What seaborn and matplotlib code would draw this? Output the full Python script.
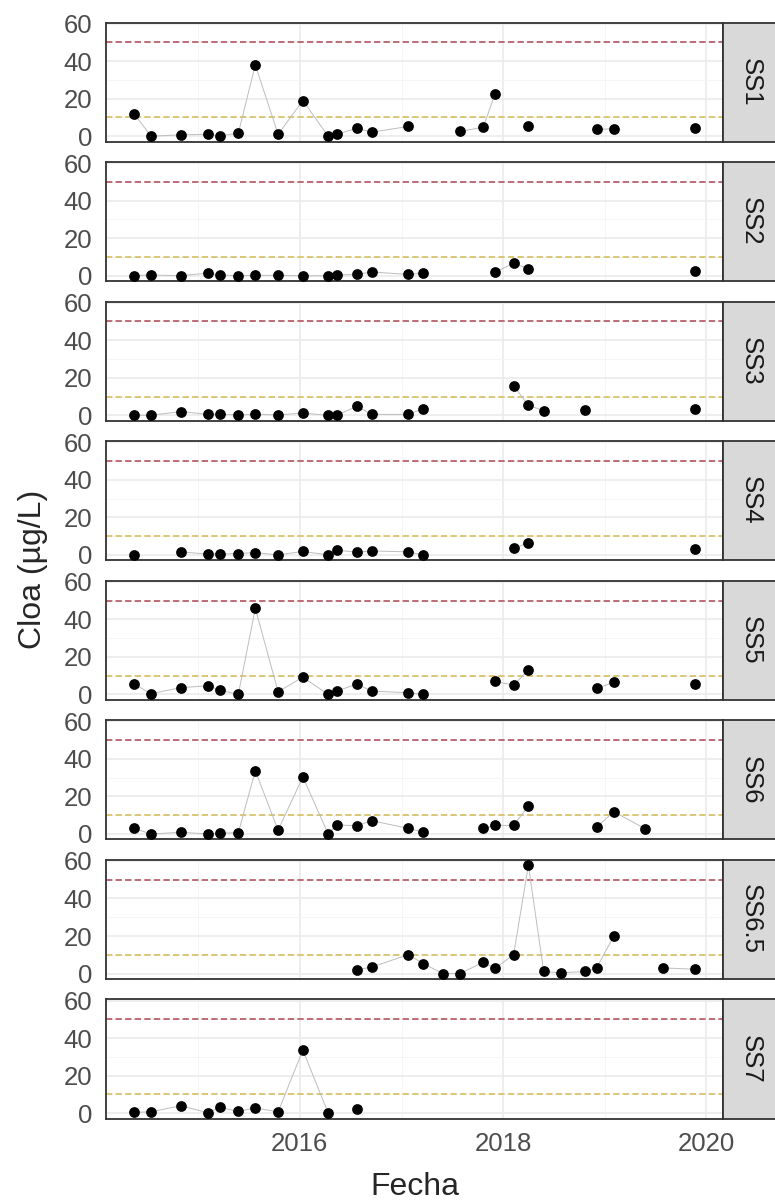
import pandas as pd
import numpy as np
import seaborn as sns
import matplotlib.pyplot as plt
import matplotlib.dates as mdates
from matplotlib.patches import Rectangle
from matplotlib.ticker import MultipleLocator

# fechas de muestreo (campañas)
fechas = [
    "2014-05-15", "2014-07-15", "2014-10-30", "2015-02-05", "2015-03-20",
    "2015-05-25", "2015-07-25", "2015-10-15", "2016-01-12", "2016-04-12",
    "2016-05-12", "2016-07-25", "2016-09-15", "2017-01-25", "2017-03-20",
    "2017-05-30", "2017-07-30", "2017-10-22", "2017-12-03", "2018-02-08",
    "2018-04-02", "2018-05-27", "2018-07-27", "2018-10-22", "2018-12-03",
    "2019-02-03", "2019-05-27", "2019-07-31", "2019-11-22",
]

sitios = ["SS1", "SS2", "SS3", "SS4", "SS5", "SS6", "SS6.5", "SS7"]

N = None
# clorofila a (ug/L) por sitio, alineada con 'fechas' (None = sin muestreo)
ss1 = [12, 0, 0.7, 1, 0.2, 1.6, 38, 1, 19, 0, 1, 4.3, 2.1, 5.2, N,
       N, 2.5, 4.8, 22.6, N, 5.3, N, N, N, 3.7, 3.9, N, N, 4.3]
ss2 = [0, 0.4, 0, 1.4, 0.4, 0, 0.2, 0.2, 0, 0, 0.4, 0.7, 2, 0.7, 1.4,
       N, N, N, 2, 6.6, 3.8, N, N, N, N, N, N, N, 2.3]
ss3 = [0, 0, 2, 0.5, 0.5, 0.2, 0.5, 0.2, 1.2, 0, 0, 4.8, 0.5, 0.5, 3.5,
       N, N, N, N, 15.8, 5.3, 2.5, N, 2.8, N, N, N, N, 3.5]
ss4 = [0, N, 1.6, 0.4, 0.4, 0.7, 1.2, 0, 1.8, 0, 2.5, 1.4, 2.1, 1.6, 0,
       N, N, N, N, 3.5, 6.4, N, N, N, N, N, N, N, 3]
ss5 = [5.5, 0.4, 3.6, 4.6, 2.3, 0, 45.9, 1.4, 9.2, 0, 1.8, 5.5, 1.8, 0.9, 0,
       N, N, N, 6.9, 5, 13, N, N, N, 3.2, 6.4, N, N, 5.5]
ss6 = [3, 0, 0.9, 0, 0.4, 0.7, 33.7, 2.1, 30.4, 0, 4.8, 4.4, 7.1, 3, 1,
       N, N, 3, 4.6, 4.6, 14.9, N, N, N, 3.5, 11.9, 2.8, N, N]
ss6_5 = [N, N, N, N, N, N, N, N, N, N, N, 2.1, 3.4, 10.1, 5.3,
         0, 0, 6, 2.7, 10.1, 57.7, 1.1, 0.4, 1.1, 3, 19.8, N, 3, 2.3]
ss7 = [0.4, 0.7, 3.9, 0.2, 3, 0.9, 2.7, 0.7, 33.6, 0, N, 2.3, N, N, N,
       N, N, N, N, N, N, N, N, N, N, N, N, N, N]

umbral_alto = 50
umbral_bajo = 10


def graficar():
    valores = [ss1, ss2, ss3, ss4, ss5, ss6, ss6_5, ss7]
    filas = []
    for sitio, serie in zip(sitios, valores):
        for f, v in zip(fechas, serie):
            filas.append({"sitio": sitio, "fecha": pd.Timestamp(f),
                          "cloa": np.nan if v is None else v})
    df = pd.DataFrame(filas)

    sns.set_theme(style="white")
    plt.rcParams["font.family"] = ["Liberation Sans", "DejaVu Sans"]

    g = sns.FacetGrid(df, row="sitio", row_order=sitios, height=1.5, aspect=5,
                      sharex=True, sharey=True, despine=False)
    # linea que se corta donde no hubo muestreo (como geom_line con NA)
    g.map(plt.plot, "fecha", "cloa", color="#BDBDBD", linewidth=0.7, zorder=3)
    g.map_dataframe(sns.scatterplot, x="fecha", y="cloa", color="black",
                    s=60, linewidth=0, zorder=4)

    fig = g.figure
    fig.set_size_inches(7.75, 12.04)
    fig.subplots_adjust(left=0.1368, right=0.9329, top=0.9813,
                        bottom=0.0710, hspace=0.172)

    # limites con expansion del 5% (como ggplot)
    xnum = mdates.date2num(df["fecha"])
    xr = xnum.max() - xnum.min()
    xlim = (xnum.min() - 0.05 * xr, xnum.max() + 0.05 * xr)
    ymin, ymax = np.nanmin(df["cloa"]), np.nanmax(df["cloa"])
    yr = ymax - ymin
    ylim = (ymin - 0.05 * yr, ymax + 0.05 * yr)

    for ax, sitio in zip(g.axes.flat, sitios):
        ax.set_title("")
        ax.set_xlabel("")
        ax.set_ylabel("")
        ax.set_facecolor("white")
        ax.set_xlim(xlim)
        ax.set_ylim(ylim)
        ax.set_yticks([0, 20, 40, 60])
        ax.yaxis.set_minor_locator(MultipleLocator(10))
        ax.xaxis.set_major_locator(mdates.YearLocator(2))
        ax.xaxis.set_minor_locator(mdates.YearLocator(1))
        ax.xaxis.set_major_formatter(mdates.DateFormatter("%Y"))
        ax.grid(True, which="major", color="#EBEBEB", linewidth=1.2, zorder=0)
        ax.grid(True, which="minor", color="#F4F4F4", linewidth=0.6, zorder=0)
        ax.set_axisbelow(True)
        ax.tick_params(axis="both", which="major", length=6, width=1.1,
                       color="#333333", labelcolor="#4D4D4D",
                       labelsize=18.5, pad=4)
        ax.tick_params(axis="both", which="minor", length=0)
        for sp in ax.spines.values():
            sp.set_color("#333333")
            sp.set_linewidth(1.3)
            sp.set_visible(True)

        ax.axhline(umbral_alto, color="#B8606C", linestyle=(0, (3.5, 1.8)),
                   linewidth=1.3, zorder=2)
        ax.axhline(umbral_bajo, color="#D8C36A", linestyle=(0, (3.5, 1.8)),
                   linewidth=1.3, zorder=2)

        # tira lateral del facet
        ancho = 56 / 617
        ax.add_patch(Rectangle((1, 0), ancho, 1, transform=ax.transAxes,
                               facecolor="#D9D9D9", edgecolor="#333333",
                               linewidth=1.3, clip_on=False, zorder=5))
        ax.text(1 + ancho / 2, 0.5, sitio, transform=ax.transAxes,
                rotation=-90, ha="center", va="center", fontsize=18.5,
                color="#1A1A1A", zorder=6)

    fig.text(0.535, 0.0145, "Fecha", ha="center", va="center", fontsize=23)
    fig.text(0.043, 0.527, "Cloa (µg/L)", ha="center", va="center",
             rotation=90, fontsize=23)

    fig.savefig("out.png", dpi=100)


if __name__ == "__main__":
    graficar()
